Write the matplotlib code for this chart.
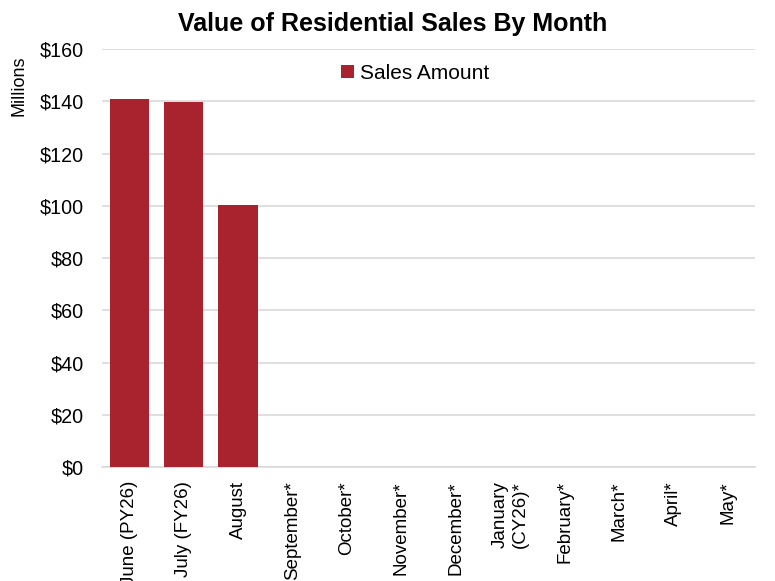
import matplotlib.pyplot as plt
from matplotlib.ticker import FuncFormatter

plt.rcParams['font.family'] = ['Liberation Sans', 'DejaVu Sans']

# months of the fiscal year, values in millions
months = ["June (PY26)", "July (FY26)", "August", "September*", "October*",
          "November*", "December*", "January\n(CY26)*", "February*", "March*",
          "April*", "May*"]
sales = [140.9, 139.9, 100.4, 0, 0, 0, 0, 0, 0, 0, 0, 0]

fig = plt.figure(figsize=(7.75, 5.81), dpi=100)
ax = fig.add_axes([0.1316, 0.196, 0.8426, 0.7197])

x = range(len(months))
ax.bar(x, sales, width=0.72, color="#A8232D", label="Sales Amount", zorder=3)

ax.set_ylim(0, 160)
ax.set_xlim(-0.5, len(months) - 0.5)
ax.set_yticks(range(0, 161, 20))
ax.yaxis.set_major_formatter(FuncFormatter(lambda v, p: "${:.0f}".format(v)))
ax.set_xticks(list(x))
ax.set_xticklabels(months, rotation=90, fontsize=13.5, va="top", ha="center")
ax.tick_params(axis="y", labelsize=14.2, length=0, pad=13)
ax.tick_params(axis="x", length=0, pad=10)

ax.grid(axis="y", color="#D9D9D9", linewidth=1.2, zorder=0)
for s in ["top", "right", "left"]:
    ax.spines[s].set_visible(False)
ax.spines["bottom"].set_color("#D9D9D9")
ax.spines["bottom"].set_linewidth(1.2)

fig.text(0.507, 0.959, "Value of Residential Sales By Month", fontsize=18,
         fontweight="bold", ha="center", va="center")
fig.text(0.0245, 0.852, "Millions", rotation=90, fontsize=13, ha="center", va="center")

ax.legend(loc="center", bbox_to_anchor=(0.48, 0.9415), frameon=False, fontsize=15,
          handlelength=0.6, handleheight=0.6, handletextpad=0.3)

fig.savefig("out.png", dpi=100)
